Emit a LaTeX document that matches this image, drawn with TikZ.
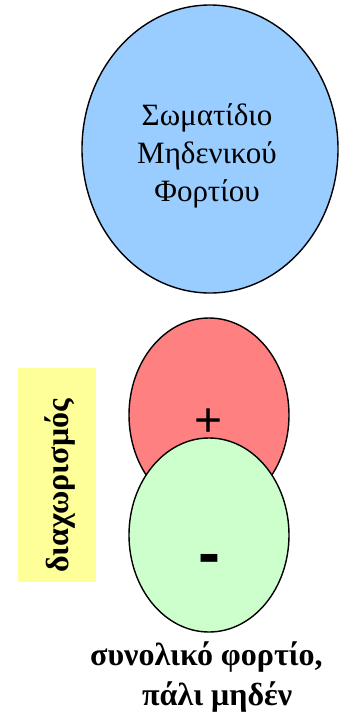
\documentclass[tikz,border=0pt]{standalone}
\usepackage{fontspec}
\setmainfont{Liberation Serif}
\newfontfamily\signfont{Liberation Sans}
\definecolor{blueball}{RGB}{153,204,255}
\definecolor{redball}{RGB}{255,128,128}
\definecolor{greenball}{RGB}{204,255,204}
\definecolor{yellowbox}{RGB}{255,255,153}
\begin{document}
\begin{tikzpicture}[x=1pt,y=-1pt,
  ball/.style={draw=black,line width=1.4pt},
  bigtext/.style={font=\fontsize{31}{38}\selectfont,align=center,inner sep=0pt},
  boldtext/.style={font=\fontsize{32}{40}\selectfont\bfseries,inner sep=0pt}]
\useasboundingbox (0,0) rectangle (342,713);
% neutral particle
\draw[ball,fill=blueball] (210,149) ellipse [x radius=128, y radius=144];
\node[bigtext] (neutral) at (207,156) {Σωματίδιο\\Μηδενικού\\Φορτίου};
% separation label
\node[fill=yellowbox,minimum width=78,minimum height=214,inner sep=0pt] (sepbox) at (57,475) {};
\node[boldtext,rotate=90] (septext) at (60,486) {διαχωρισμός};
% charges
\draw[ball,fill=redball] (209,415) ellipse [x radius=80, y radius=97];
\node[font=\signfont\fontsize{48}{48}\selectfont,inner sep=0pt] (plus) at (209,423) {+};
\draw[ball,fill=greenball] (209,535) ellipse [x radius=80, y radius=97];
\node[font=\signfont\bfseries\fontsize{66}{66}\selectfont,inner sep=0pt] (minus) at (209,565) {-};
% total charge
\node[boldtext,align=left,anchor=north west] (total) at (90,642) {συνολικό φορτίο,\\\hspace*{52pt}πάλι μηδέν};
\end{tikzpicture}
\end{document}
